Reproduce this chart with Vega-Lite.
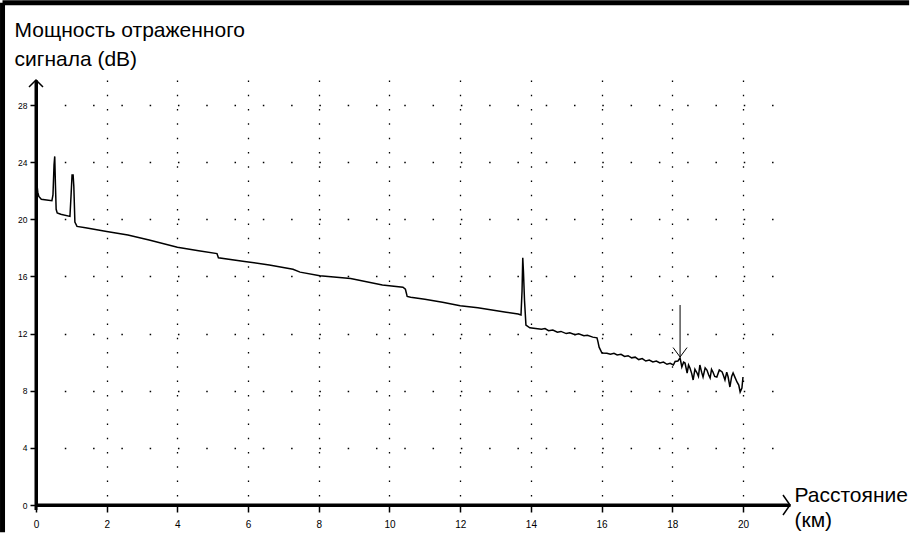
{
  "$schema": "https://vega.github.io/schema/vega-lite/v6.json",
  "width": 754,
  "height": 425,
  "padding": 0,
  "background": "white",
  "config": {
    "view": {"stroke": null},
    "font": "Liberation Sans",
    "axis": {
      "labelColor": "black", "labelFont": "Liberation Sans", "labelOverlap": false, "labelFlush": false,
      "ticks": true, "tickColor": "black", "tickWidth": 1.5, "tickOpacity": 1,
      "domain": true, "domainColor": "black", "domainWidth": 3, "domainOpacity": 1,
      "grid": true, "gridColor": "black", "gridWidth": 1.3, "gridOpacity": 1,
      "titleColor": "black", "titleFont": "Liberation Sans", "titleFontSize": 21, "titleFontWeight": "normal",
      "titleAlign": "left", "titleAnchor": "start", "titleBaseline": "alphabetic"
    },
    "axisX": {"labelFontSize": 10, "labelPadding": 7, "tickSize": 7, "gridDash": [1.5, 12.79]},
    "axisY": {"labelFontSize": 8.5, "labelPadding": 3, "tickSize": 6, "gridDash": [1.5, 26.79], "titleAngle": 0}
  },
  "layer": [
    {
      "data": {"values": [
        {"km": 0.00, "db": 22.4}, {"km": 0.02, "db": 22.6}, {"km": 0.05, "db": 21.9}, {"km": 0.08, "db": 21.6},
        {"km": 0.15, "db": 21.4}, {"km": 0.30, "db": 21.35}, {"km": 0.45, "db": 21.3}, {"km": 0.48, "db": 21.7},
        {"km": 0.51, "db": 23.8}, {"km": 0.53, "db": 24.4}, {"km": 0.55, "db": 22.4}, {"km": 0.57, "db": 20.7},
        {"km": 0.60, "db": 20.45}, {"km": 0.70, "db": 20.35}, {"km": 0.96, "db": 20.2}, {"km": 0.99, "db": 21.6},
        {"km": 1.02, "db": 23.1}, {"km": 1.05, "db": 23.1}, {"km": 1.07, "db": 22.3}, {"km": 1.10, "db": 19.8},
        {"km": 1.16, "db": 19.5}, {"km": 1.40, "db": 19.4}, {"km": 2.0, "db": 19.15}, {"km": 2.6, "db": 18.9},
        {"km": 3.2, "db": 18.55}, {"km": 4.0, "db": 18.05}, {"km": 4.6, "db": 17.8}, {"km": 5.12, "db": 17.6},
        {"km": 5.16, "db": 17.3}, {"km": 5.9, "db": 17.05}, {"km": 6.6, "db": 16.8}, {"km": 7.27, "db": 16.5},
        {"km": 7.47, "db": 16.3}, {"km": 8.03, "db": 16.05}, {"km": 8.9, "db": 15.85}, {"km": 9.8, "db": 15.4},
        {"km": 10.38, "db": 15.25}, {"km": 10.45, "db": 15.1}, {"km": 10.5, "db": 14.6}, {"km": 10.6, "db": 14.55},
        {"km": 11.0, "db": 14.4}, {"km": 11.5, "db": 14.2}, {"km": 12.0, "db": 13.95}, {"km": 12.5, "db": 13.8},
        {"km": 12.9, "db": 13.65}, {"km": 13.3, "db": 13.5}, {"km": 13.64, "db": 13.37}, {"km": 13.72, "db": 13.3},
        {"km": 13.75, "db": 15.0}, {"km": 13.77, "db": 17.3}, {"km": 13.79, "db": 16.3}, {"km": 13.82, "db": 14.3},
        {"km": 13.86, "db": 12.6}, {"km": 13.97, "db": 12.4}, {"km": 14.30, "db": 12.30}, {"km": 14.40, "db": 12.35},
        {"km": 14.50, "db": 12.20}, {"km": 14.62, "db": 12.25}, {"km": 14.75, "db": 12.10}, {"km": 14.85, "db": 12.15},
        {"km": 15.00, "db": 12.00}, {"km": 15.10, "db": 12.05}, {"km": 15.25, "db": 11.92}, {"km": 15.35, "db": 11.98},
        {"km": 15.50, "db": 11.85}, {"km": 15.60, "db": 11.88}, {"km": 15.75, "db": 11.75}, {"km": 15.87, "db": 11.70},
        {"km": 15.90, "db": 11.40}, {"km": 15.93, "db": 11.05}, {"km": 16.01, "db": 10.64}, {"km": 16.15, "db": 10.62},
        {"km": 16.25, "db": 10.55}, {"km": 16.35, "db": 10.62}, {"km": 16.44, "db": 10.50}, {"km": 16.55, "db": 10.55},
        {"km": 16.65, "db": 10.40}, {"km": 16.75, "db": 10.45}, {"km": 16.85, "db": 10.30}, {"km": 16.95, "db": 10.35},
        {"km": 17.05, "db": 10.18}, {"km": 17.15, "db": 10.25}, {"km": 17.25, "db": 10.08}, {"km": 17.35, "db": 10.15},
        {"km": 17.45, "db": 10.02}, {"km": 17.55, "db": 10.08}, {"km": 17.65, "db": 9.94}, {"km": 17.75, "db": 10.0},
        {"km": 17.85, "db": 9.85}, {"km": 17.94, "db": 9.92}, {"km": 18.03, "db": 9.80}, {"km": 18.08, "db": 10.05},
        {"km": 18.16, "db": 10.08}, {"km": 18.22, "db": 10.3}, {"km": 18.27, "db": 9.66}, {"km": 18.32, "db": 10.0},
        {"km": 18.36, "db": 9.94}, {"km": 18.42, "db": 9.24}, {"km": 18.46, "db": 9.8}, {"km": 18.50, "db": 9.59},
        {"km": 18.55, "db": 9.2}, {"km": 18.59, "db": 8.75}, {"km": 18.64, "db": 9.5}, {"km": 18.70, "db": 9.24},
        {"km": 18.74, "db": 9.0}, {"km": 18.78, "db": 9.8}, {"km": 18.83, "db": 9.3}, {"km": 18.87, "db": 8.96},
        {"km": 18.93, "db": 9.6}, {"km": 18.98, "db": 9.45}, {"km": 19.03, "db": 9.1}, {"km": 19.07, "db": 8.89},
        {"km": 19.11, "db": 9.5}, {"km": 19.15, "db": 9.31}, {"km": 19.2, "db": 9.0}, {"km": 19.26, "db": 8.96},
        {"km": 19.33, "db": 9.45}, {"km": 19.41, "db": 9.31}, {"km": 19.45, "db": 9.05}, {"km": 19.49, "db": 8.75},
        {"km": 19.54, "db": 9.3}, {"km": 19.58, "db": 8.96}, {"km": 19.63, "db": 8.26}, {"km": 19.68, "db": 9.0},
        {"km": 19.72, "db": 9.24}, {"km": 19.78, "db": 8.9}, {"km": 19.83, "db": 8.61}, {"km": 19.88, "db": 8.4},
        {"km": 19.92, "db": 7.91}, {"km": 19.97, "db": 8.19}, {"km": 20.0, "db": 8.96}
      ]},
      "mark": {"type": "line", "color": "black", "strokeWidth": 1.5},
      "encoding": {
        "x": {
          "field": "km", "type": "quantitative",
          "scale": {"domain": [0, 21.33], "nice": false, "zero": false},
          "axis": {
            "values": [0, 2, 4, 6, 8, 10, 12, 14, 16, 18, 20],
            "title": ["Расстояние", "(км)"],
            "titleX": 758, "titleY": -4, "titleLineHeight": 25
          }
        },
        "y": {
          "field": "db", "type": "quantitative",
          "scale": {"domain": [0, 29.75], "nice": false, "zero": false},
          "axis": {
            "values": [0, 4, 8, 12, 16, 20, 24, 28],
            "title": ["Мощность отраженного", "сигнала (dB)"],
            "titleX": -22, "titleY": -44, "titleLineHeight": 29
          }
        }
      }
    },
    {
      "data": {"values": [{"part": "x axis line"}]},
      "mark": {"type": "rule", "color": "black", "strokeWidth": 3},
      "encoding": {
        "x": {"datum": 0, "type": "quantitative"},
        "x2": {"datum": 21.3},
        "y": {"datum": 0, "type": "quantitative"}
      }
    },
    {
      "data": {"values": [{"part": "y axis line"}]},
      "mark": {"type": "rule", "color": "black", "strokeWidth": 3},
      "encoding": {
        "x": {"datum": 0, "type": "quantitative"},
        "y": {"datum": -0.35, "type": "quantitative"},
        "y2": {"datum": 29.7}
      }
    },
    {
      "data": {"values": [{"part": "frame"}]},
      "mark": {"type": "rule", "color": "black", "strokeWidth": 5},
      "encoding": {
        "x": {"datum": -0.947, "type": "quantitative"},
        "y": {"datum": -1.9, "type": "quantitative"},
        "y2": {"datum": 35.16}
      }
    },
    {
      "data": {"values": [{"part": "frame"}]},
      "mark": {"type": "rule", "color": "black", "strokeWidth": 5},
      "encoding": {
        "x": {"datum": -0.947, "type": "quantitative"},
        "x2": {"datum": 24.7},
        "y": {"datum": 35.16, "type": "quantitative"}
      }
    },
    {
      "data": {"values": [{"part": "marker"}]},
      "mark": {"type": "rule", "color": "black", "strokeWidth": 1},
      "encoding": {
        "x": {"datum": 18.22, "type": "quantitative"},
        "y": {"datum": 14.0, "type": "quantitative"},
        "y2": {"datum": 10.36}
      }
    },
    {
      "data": {"values": [{"part": "marker"}]},
      "mark": {"type": "point", "shape": "M-1,-1.35L0,0L1,-1.35", "filled": false, "color": "black", "strokeWidth": 1, "size": 196, "opacity": 1},
      "encoding": {
        "x": {"datum": 18.22, "type": "quantitative"},
        "y": {"datum": 10.36, "type": "quantitative"}
      }
    },
    {
      "data": {"values": [{"part": "xarrow"}]},
      "mark": {"type": "point", "shape": "M-0.7,-1L0,0L-0.7,1", "filled": false, "color": "black", "strokeWidth": 1.5, "size": 400, "opacity": 1},
      "encoding": {
        "x": {"datum": 21.33, "type": "quantitative"},
        "y": {"datum": 0, "type": "quantitative"}
      }
    },
    {
      "data": {"values": [{"part": "yarrow"}]},
      "mark": {"type": "point", "shape": "M-1,1L0,0L1,1", "filled": false, "color": "black", "strokeWidth": 1.5, "size": 196, "opacity": 1},
      "encoding": {
        "x": {"datum": 0, "type": "quantitative"},
        "y": {"datum": 29.75, "type": "quantitative"}
      }
    }
  ]
}
